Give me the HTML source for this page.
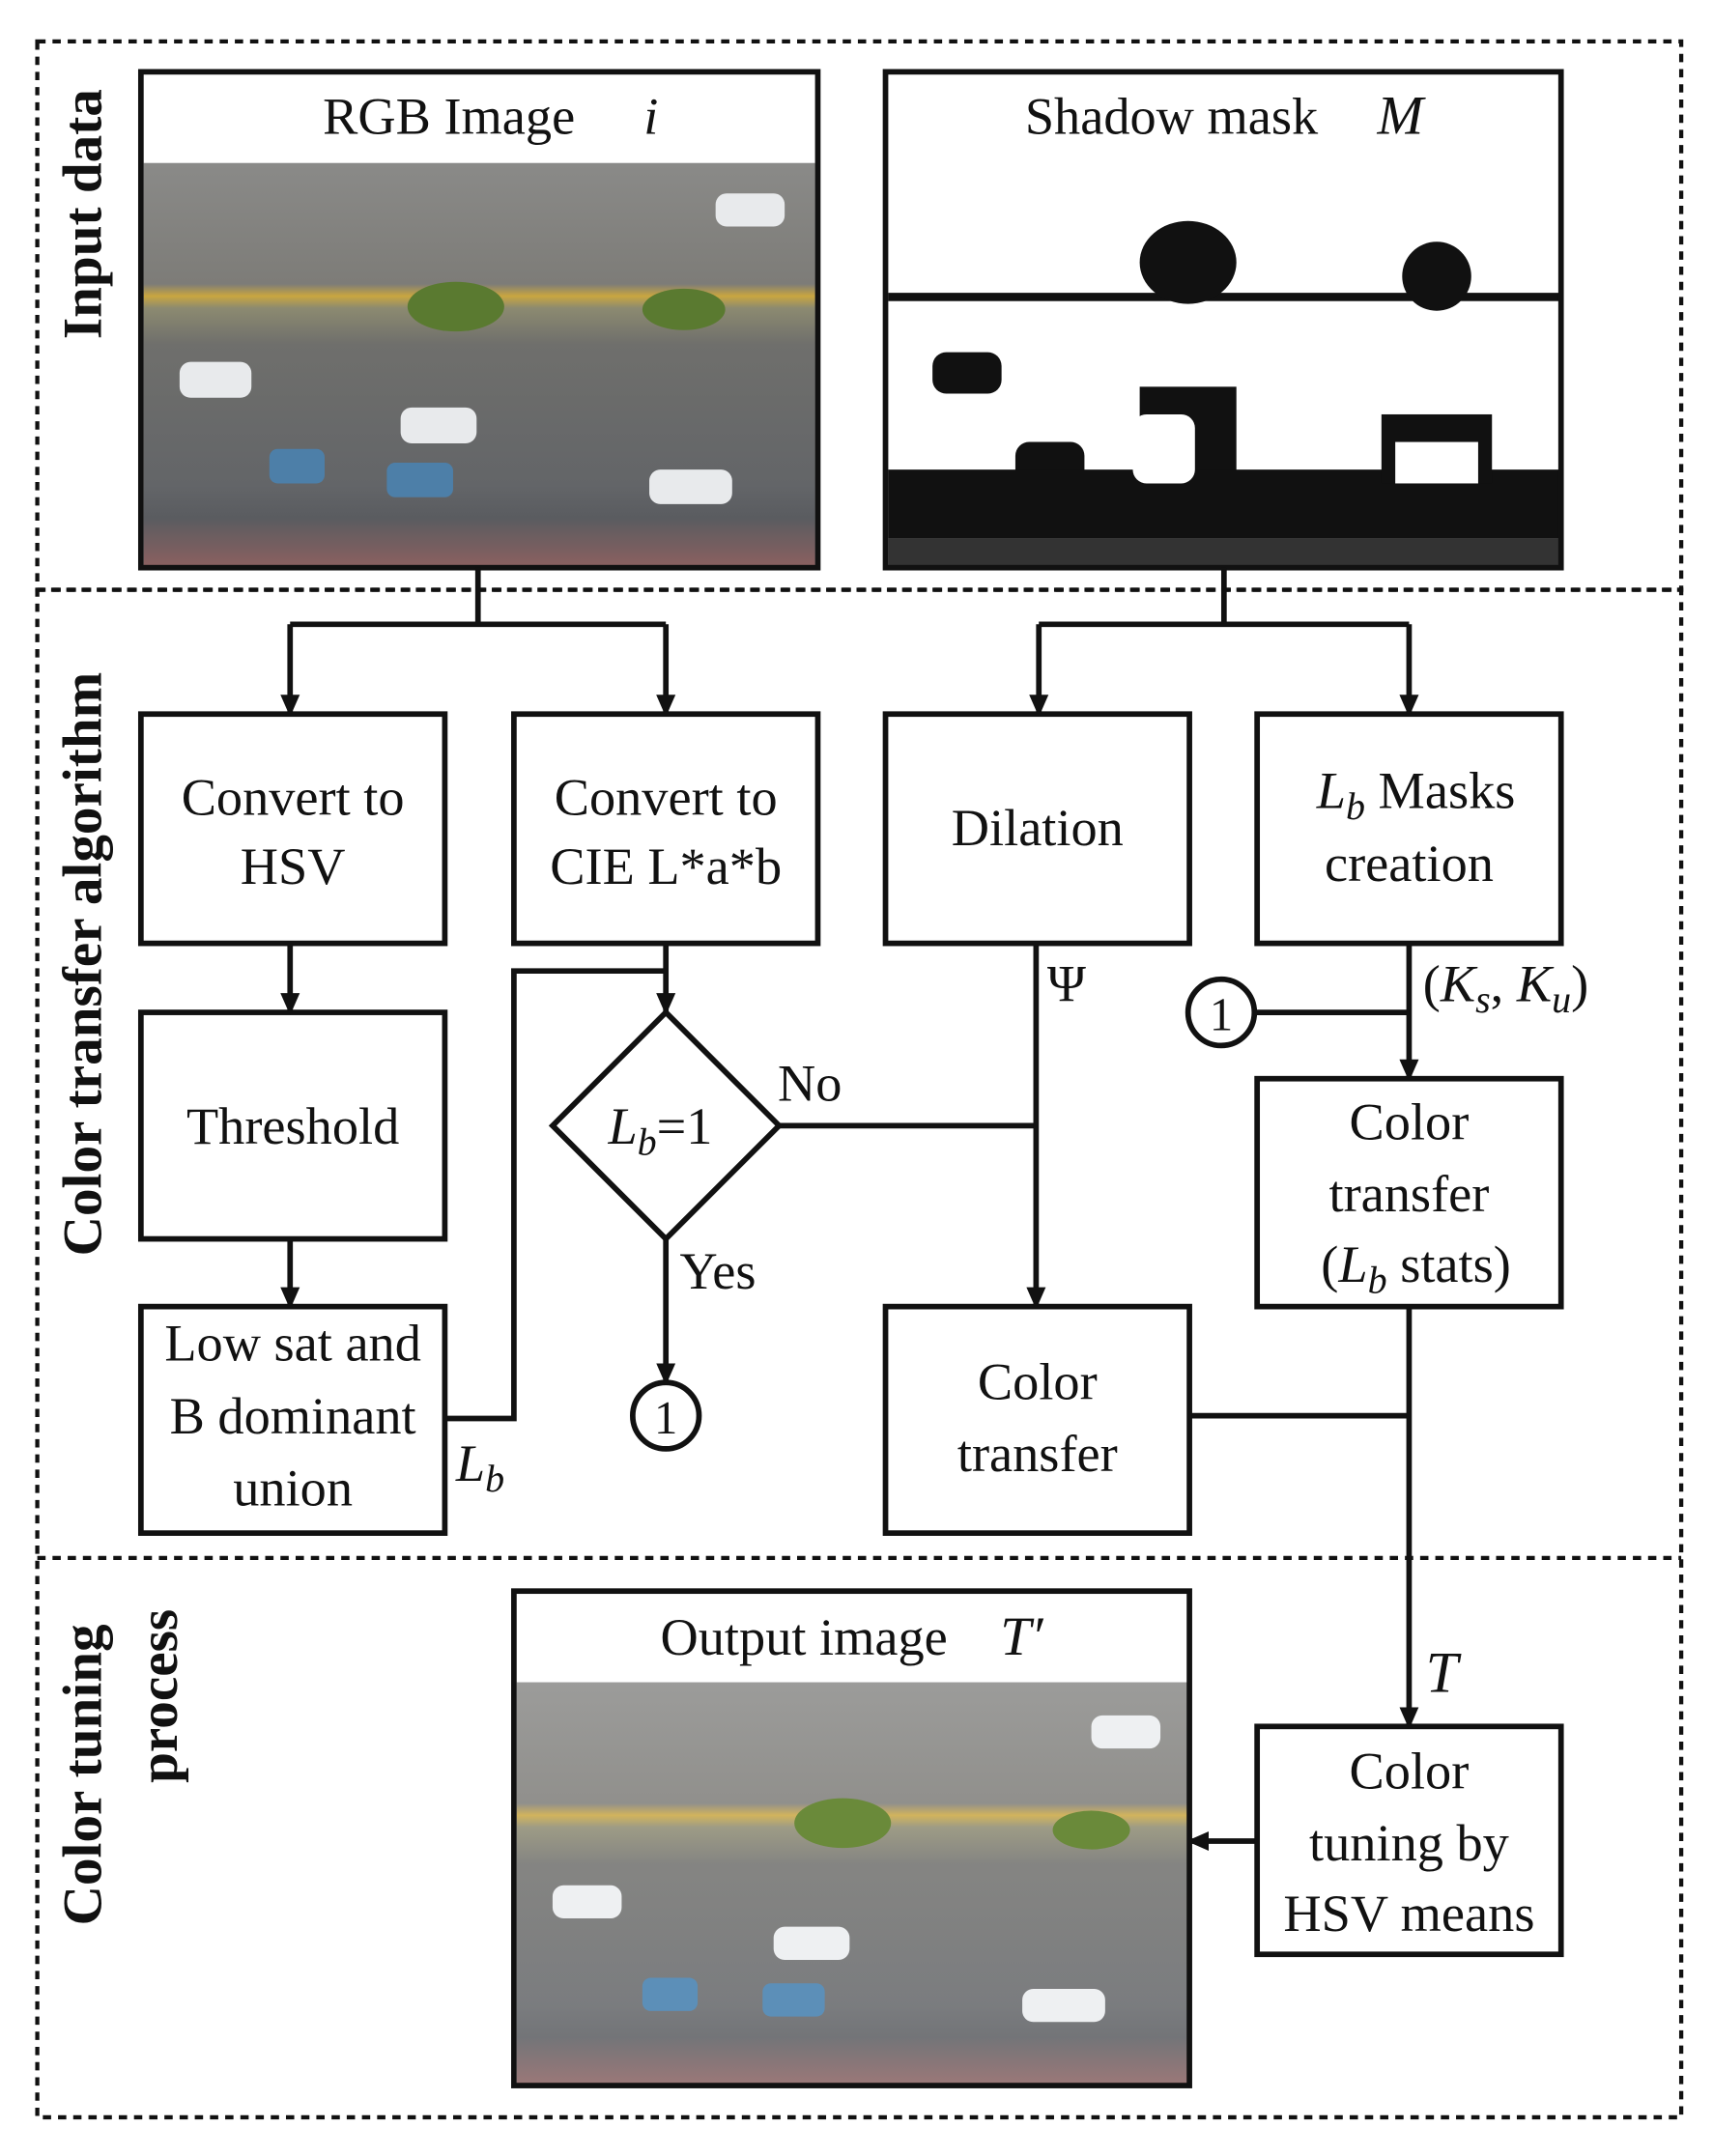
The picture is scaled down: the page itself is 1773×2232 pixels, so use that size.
<!DOCTYPE html>
<html><head><meta charset="utf-8"><style>
html,body{margin:0;padding:0;background:#fff}
svg{display:block}
text{font-family:"Liberation Serif",serif;fill:#111}
</style></head><body>
<svg width="1773" height="2232" viewBox="0 0 1240 1561" xmlns="http://www.w3.org/2000/svg">
<defs>
<marker id="ah" markerWidth="16" markerHeight="16" refX="14" refY="8" orient="auto" markerUnits="userSpaceOnUse" viewBox="0 0 16 16"><path d="M0,1 L16,8 L0,15 z" fill="#111"/></marker>
<linearGradient id="road" x1="0" y1="0" x2="0" y2="1">
<stop offset="0" stop-color="#8a8a88"/><stop offset="0.3" stop-color="#7d7c78"/><stop offset="0.33" stop-color="#c9a640"/><stop offset="0.36" stop-color="#8c8a70"/><stop offset="0.45" stop-color="#6f6f6c"/><stop offset="0.8" stop-color="#636568"/><stop offset="0.88" stop-color="#5a5c60"/><stop offset="1" stop-color="#8a6060"/>
</linearGradient>
</defs>
<g fill="none" stroke="#111" stroke-width="3" stroke-dasharray="6,5">
<rect x="27" y="30" width="1190" height="397"/>
<line x1="27" y1="1128" x2="1217" y2="1128"/>
<rect x="27" y="427" width="1190" height="1106"/>
</g>
<g font-weight="bold" font-size="40">
<text transform="translate(73,155) rotate(-90)" text-anchor="middle">Input data</text>
<text transform="translate(73,698) rotate(-90)" text-anchor="middle">Color transfer algorithm</text>
<text transform="translate(73,1285) rotate(-90)" text-anchor="middle">Color tuning</text>
<text transform="translate(128,1228) rotate(-90)" text-anchor="middle">process</text>
</g>
<rect x="104" y="118" width="486" height="292" fill="url(#road)"/>
<g fill="#e8eaec"><rect x="130" y="262" width="52" height="26" rx="8"/><rect x="290" y="295" width="55" height="26" rx="8"/><rect x="518" y="140" width="50" height="24" rx="8"/><rect x="470" y="340" width="60" height="25" rx="8"/></g>
<g fill="#4d7fa8"><rect x="195" y="325" width="40" height="25" rx="6"/><rect x="280" y="335" width="48" height="25" rx="6"/></g>
<g fill="#5a7a30"><ellipse cx="330" cy="222" rx="35" ry="18"/><ellipse cx="495" cy="224" rx="30" ry="15"/></g>
<rect x="643" y="118" width="486" height="292" fill="#fff"/>
<g fill="#111">
<rect x="643" y="212" width="486" height="6"/>
<ellipse cx="860" cy="190" rx="35" ry="30"/><ellipse cx="1040" cy="200" rx="25" ry="25"/>
<rect x="675" y="255" width="50" height="30" rx="10"/>
<rect x="825" y="280" width="70" height="80"/>
<rect x="735" y="320" width="50" height="40" rx="10"/>
<rect x="643" y="340" width="486" height="50"/>
<rect x="1000" y="300" width="80" height="50"/>
<rect x="643" y="390" width="486" height="20" fill="#333"/>
</g>
<g fill="#fff"><rect x="820" y="300" width="45" height="50" rx="10"/><rect x="1010" y="320" width="60" height="30"/></g>
<g fill="none" stroke="#111" stroke-width="4">
<rect x="102" y="52" width="490" height="359"/>
<rect x="641" y="52" width="489" height="359"/>
</g>
<text x="325" y="97" font-size="38" text-anchor="middle">RGB Image</text>
<text x="466" y="97" font-size="38" font-style="italic">i</text>
<text x="848" y="97" font-size="38" text-anchor="middle">Shadow mask</text>
<text x="997" y="97" font-size="40" font-style="italic">M</text>
<g fill="none" stroke="#111" stroke-width="4">
<path d="M346,411 V452 M210,452 H482 M886,411 V452 M752,452 H1020"/>
<path d="M210,452 V517" marker-end="url(#ah)"/>
<path d="M482,452 V517" marker-end="url(#ah)"/>
<path d="M752,452 V517" marker-end="url(#ah)"/>
<path d="M1020,452 V517" marker-end="url(#ah)"/>
<path d="M210,683 V733" marker-end="url(#ah)"/>
<path d="M210,897 V946" marker-end="url(#ah)"/>
<path d="M482,683 V733" marker-end="url(#ah)"/>
<path d="M322,1027 H372 V703 H482"/>
<path d="M564,815 H750"/>
<path d="M750,683 V946" marker-end="url(#ah)"/>
<path d="M482,897 V1001" marker-end="url(#ah)"/>
<path d="M1020,683 V781" marker-end="url(#ah)"/>
<path d="M908,733 H1020"/>
<path d="M861,1025 H1020"/>
<path d="M1020,946 V1250" marker-end="url(#ah)"/>
<path d="M910,1333 H861" marker-end="url(#ah)"/>
<circle cx="482" cy="1025" r="24"/>
<circle cx="884" cy="733" r="24"/>
<rect x="102" y="517" width="220" height="166"/>
<rect x="372" y="517" width="220" height="166"/>
<rect x="641" y="517" width="220" height="166"/>
<rect x="910" y="517" width="220" height="166"/>
<rect x="102" y="733" width="220" height="164"/>
<rect x="102" y="946" width="220" height="164"/>
<rect x="641" y="946" width="220" height="164"/>
<rect x="910" y="781" width="220" height="165"/>
<rect x="910" y="1250" width="220" height="165"/>
<path d="M482,733 L564,815 L482,897 L400,815 Z"/>
</g>
<g font-size="38" text-anchor="middle">
<text x="212" y="590">Convert to</text><text x="212" y="640">HSV</text>
<text x="482" y="590">Convert to</text><text x="482" y="640">CIE L*a*b</text>
<text x="751" y="612">Dilation</text>
<text x="1025" y="585"><tspan font-style="italic">L</tspan><tspan font-style="italic" font-size="28" dy="8">b</tspan><tspan dy="-8"> Masks</tspan></text>
<text x="1020" y="638">creation</text>
<text x="212" y="828">Threshold</text>
<text x="212" y="985">Low sat and</text><text x="212" y="1038">B dominant</text><text x="212" y="1090">union</text>
<text x="751" y="1013">Color</text><text x="751" y="1065">transfer</text>
<text x="1020" y="825">Color</text><text x="1020" y="877">transfer</text>
<text x="1025" y="928">(<tspan font-style="italic">L</tspan><tspan font-style="italic" font-size="28" dy="8">b</tspan><tspan dy="-8"> stats)</tspan></text>
<text x="1020" y="1295">Color</text><text x="1020" y="1347">tuning by</text><text x="1020" y="1398">HSV means</text>
<text x="478" y="828"><tspan font-style="italic">L</tspan><tspan font-style="italic" font-size="28" dy="8">b</tspan><tspan dy="-8">=1</tspan></text>
<text x="482" y="1038" font-size="34">1</text>
<text x="884" y="746" font-size="34">1</text>
</g>
<g font-size="38">
<text x="563" y="797">No</text>
<text x="492" y="933">Yes</text>
<text x="758" y="725">Ψ</text>
<text x="330" y="1072" font-style="italic">L<tspan font-size="28" dy="8">b</tspan></text>
<text x="1030" y="725">(<tspan font-style="italic">K</tspan><tspan font-style="italic" font-size="28" dy="8">s</tspan><tspan dy="-8">, </tspan><tspan font-style="italic">K</tspan><tspan font-style="italic" font-size="28" dy="8">u</tspan><tspan dy="-8">)</tspan></text>
<text x="1032" y="1225" font-style="italic" font-size="42">T</text>
</g>
<rect x="374" y="1218" width="486" height="292" fill="url(#road)" opacity="0.85"/>
<g fill="#eef0f2"><rect x="400" y="1365" width="50" height="24" rx="8"/><rect x="560" y="1395" width="55" height="24" rx="8"/><rect x="790" y="1242" width="50" height="24" rx="8"/><rect x="740" y="1440" width="60" height="24" rx="8"/></g>
<g fill="#5c8fb8"><rect x="465" y="1432" width="40" height="24" rx="6"/><rect x="552" y="1436" width="45" height="24" rx="6"/></g>
<g fill="#6a8a3a"><ellipse cx="610" cy="1320" rx="35" ry="18"/><ellipse cx="790" cy="1325" rx="28" ry="14"/></g>
<rect x="372" y="1152" width="489" height="358" fill="none" stroke="#111" stroke-width="4"/>
<text x="582" y="1198" font-size="38" text-anchor="middle">Output image</text>
<text x="724" y="1198" font-size="40" font-style="italic">T′</text>
</svg>
</body></html>
